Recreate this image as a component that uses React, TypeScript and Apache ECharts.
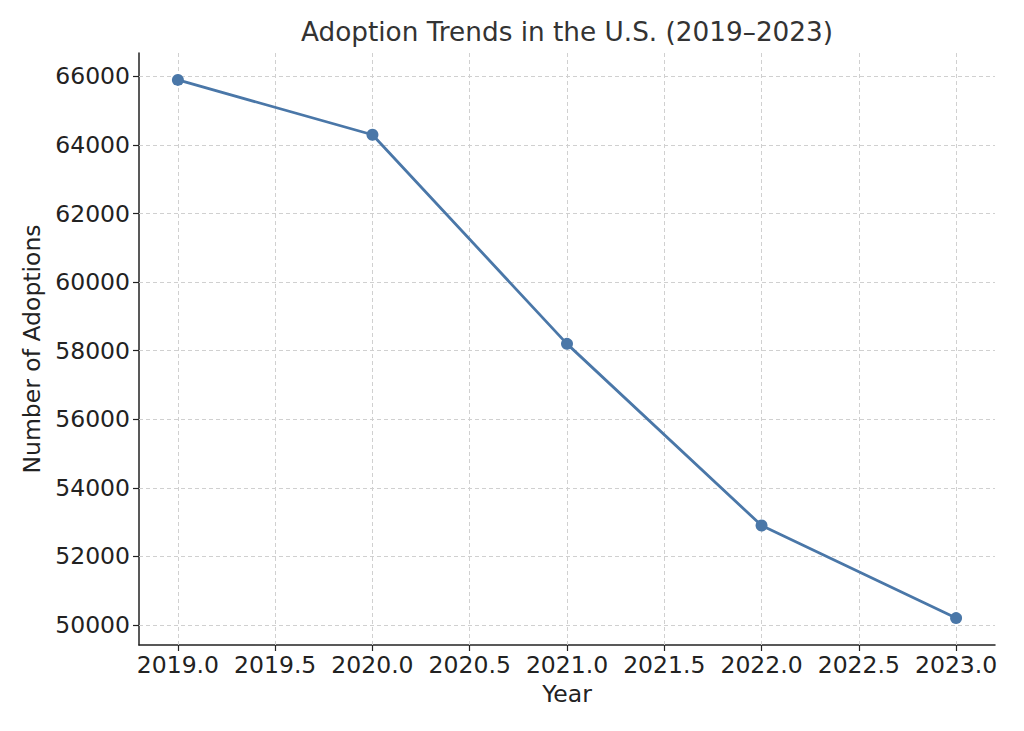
import React, { useEffect, useRef } from "react";
import * as echarts from "echarts";

const years = [2019, 2020, 2021, 2022, 2023];
const adoptions = [65900, 64300, 58200, 52900, 50200];
const xTicks = [2019.0, 2019.5, 2020.0, 2020.5, 2021.0, 2021.5, 2022.0, 2022.5, 2023.0];
const yTicks = [50000, 52000, 54000, 56000, 58000, 60000, 62000, 64000, 66000];

const FONT = "DejaVu Sans";

export default function App() {
  const ref = useRef<HTMLDivElement>(null);
  useEffect(() => {
    if (!ref.current) return;
    const chart = echarts.init(ref.current, undefined, { renderer: "svg" });
    const gridStyle = { color: "#d0d0d0", width: 1, type: [4, 3] as any };
    const option: any = {
      animation: false,
      backgroundColor: "#ffffff",
      title: {
        text: "Adoption Trends in the U.S. (2019–2023)",
        left: 562,
        textAlign: "center",
        top: 14,
        textStyle: { fontFamily: FONT, fontSize: 26.3, fontWeight: "normal", color: "#333333" },
      },
      grid: { left: 139, right: 29, top: 53, bottom: 86 },
      xAxis: {
        type: "value",
        min: 2018.8,
        max: 2023.2,
        name: "Year",
        nameLocation: "middle",
        nameGap: 37,
        nameTextStyle: { fontFamily: FONT, fontSize: 23.5, color: "#222222" },
        axisLine: { show: true, onZero: false, lineStyle: { color: "#222222", width: 1.5 } },
        axisTick: { show: true, length: 6, customValues: xTicks, lineStyle: { color: "#222222", width: 1.2 } },
        axisLabel: {
          customValues: xTicks,
          margin: 8,
          fontFamily: FONT,
          fontSize: 23.5,
          color: "#222222",
          formatter: (v: number) => v.toFixed(1),
        },
        splitLine: { show: false },
      },
      yAxis: {
        type: "value",
        min: 49415,
        max: 66685,
        name: "Number of Adoptions",
        nameLocation: "middle",
        nameGap: 93,
        nameTextStyle: { fontFamily: FONT, fontSize: 23.5, color: "#222222" },
        axisLine: { show: true, onZero: false, lineStyle: { color: "#222222", width: 1.5 } },
        axisTick: { show: true, length: 6, customValues: yTicks, lineStyle: { color: "#222222", width: 1.2 } },
        axisLabel: {
          customValues: yTicks,
          margin: 9,
          fontFamily: FONT,
          fontSize: 23.5,
          color: "#222222",
          formatter: (v: number) => String(v),
        },
        splitLine: { show: false },
      },
      series: [
        {
          type: "line",
          data: years.map((y, i) => [y, adoptions[i]]),
          symbol: "circle",
          symbolSize: 12,
          lineStyle: { color: "#4a77a8", width: 2.8 },
          itemStyle: { color: "#4a77a8" },
          z: 5,
          markLine: {
            silent: true,
            symbol: ["none", "none"],
            label: { show: false },
            lineStyle: gridStyle,
            z: 1,
            data: [
              ...xTicks.map((x) => ({ xAxis: x })),
              ...yTicks.map((y) => ({ yAxis: y })),
            ],
          },
        },
      ],
    };
    chart.setOption(option);
    return () => chart.dispose();
  }, []);
  return (
    <div
      ref={ref}
      style={{ position: "fixed", left: 0, top: 0, width: 1024, height: 731 }}
    />
  );
}
